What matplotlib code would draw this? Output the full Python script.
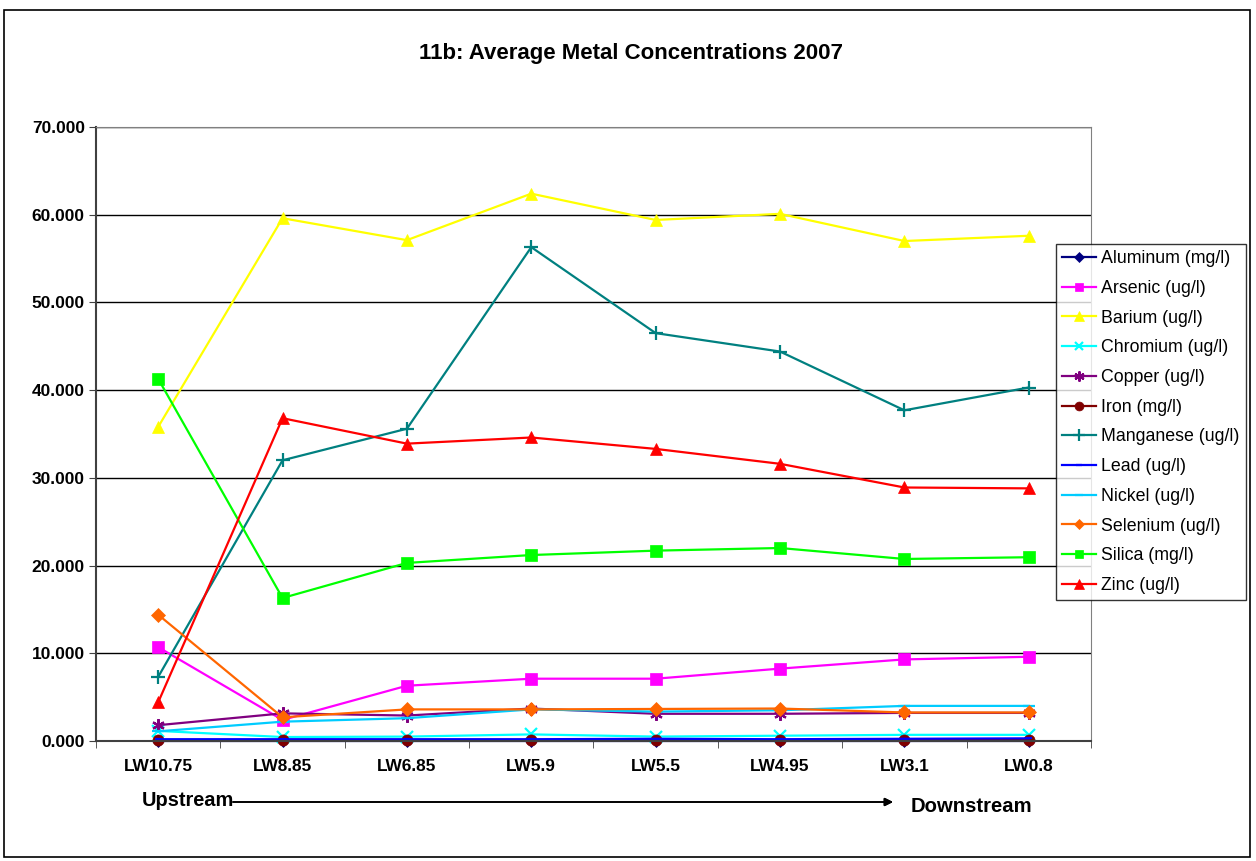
import matplotlib.pyplot as plt
from matplotlib.patches import Rectangle

plt.rcParams['font.family'] = ['Liberation Sans', 'DejaVu Sans']

### sites, ordered upstream -> downstream
sites = ['LW10.75', 'LW8.85', 'LW6.85', 'LW5.9', 'LW5.5', 'LW4.95', 'LW3.1', 'LW0.8']

### average concentrations per site
aluminum  = [0.05, 0.05, 0.05, 0.05, 0.05, 0.05, 0.05, 0.05]
arsenic   = [10.7, 2.4, 6.3, 7.1, 7.1, 8.25, 9.3, 9.6]
barium    = [35.8, 59.6, 57.1, 62.4, 59.4, 60.1, 57.0, 57.6]
chromium  = [1.15, 0.45, 0.5, 0.75, 0.5, 0.6, 0.7, 0.7]
copper    = [1.8, 3.15, 2.9, 3.7, 3.1, 3.1, 3.2, 3.2]
iron      = [0.1, 0.1, 0.1, 0.1, 0.1, 0.1, 0.1, 0.1]
manganese = [7.3, 32.0, 35.6, 56.3, 46.5, 44.4, 37.7, 40.3]
lead      = [0.2, 0.2, 0.2, 0.2, 0.25, 0.2, 0.25, 0.3]
nickel    = [1.1, 2.2, 2.6, 3.6, 3.35, 3.5, 4.0, 4.0]
selenium  = [14.4, 2.7, 3.6, 3.6, 3.65, 3.7, 3.25, 3.25]
silica    = [41.3, 16.3, 20.3, 21.2, 21.7, 22.0, 20.75, 20.95]
zinc      = [4.4, 36.8, 33.9, 34.6, 33.3, 31.6, 28.9, 28.8]

series = [
    ('Aluminum (mg/l)',  aluminum,  '#000080', 'D', 6),
    ('Arsenic (ug/l)',   arsenic,   '#FF00FF', 's', 8),
    ('Barium (ug/l)',    barium,    '#FFFF00', '^', 9),
    ('Chromium (ug/l)',  chromium,  '#00FFFF', 'x', 8),
    ('Copper (ug/l)',    copper,    '#800080', (6, 2, 0), 9),
    ('Iron (mg/l)',      iron,      '#800000', 'o', 8),
    ('Manganese (ug/l)', manganese, '#008080', '+', 10),
    ('Lead (ug/l)',      lead,      '#0000FF', '_', 5),
    ('Nickel (ug/l)',    nickel,    '#00CCFF', '_', 8),
    ('Selenium (ug/l)',  selenium,  '#FF6600', 'D', 7),
    ('Silica (mg/l)',    silica,    '#00FF00', 's', 8),
    ('Zinc (ug/l)',      zinc,      '#FF0000', '^', 9),
]

fig = plt.figure(figsize=(12.56, 8.61), dpi=100)
ax = fig.add_axes([0.0764, 0.1394, 0.7922, 0.7131])

x = list(range(len(sites)))
for name, vals, col, mk, ms in series:
    ax.plot(x, vals, color=col, marker=mk, markersize=ms, linewidth=1.6,
            markeredgewidth=1.6 if mk in ('x', '+', '_', (6, 2, 0)) else 0.5,
            markeredgecolor=col, label=name, clip_on=False)

ax.set_xlim(-0.5, len(sites) - 0.5)
ax.set_ylim(0, 70)
ax.set_yticks(range(0, 71, 10))
ax.set_yticklabels([f'{v:.3f}' for v in range(0, 71, 10)], fontweight='bold', fontsize=12.5)
ax.set_xticks(x)
ax.set_xticklabels(sites, fontweight='bold', fontsize=12.4)
ax.set_xticks([i + 0.5 for i in range(-1, len(sites))], minor=True)
ax.tick_params(axis='x', which='major', length=0, pad=13)
ax.tick_params(axis='x', which='minor', length=5, direction='out', color='#404040')
ax.tick_params(axis='y', length=5, direction='out', color='#404040', pad=3)
ax.yaxis.grid(True, color='black', linewidth=1)
ax.set_axisbelow(True)
for side in ('top', 'right'):
    ax.spines[side].set_color('#808080')
for side in ('left', 'bottom'):
    ax.spines[side].set_color('#404040')
    ax.spines[side].set_linewidth(1.5)

fig.text(631 / 1256, 1 - 53 / 861, '11b: Average Metal Concentrations 2007',
         fontweight='bold', fontsize=16, ha='center', va='center')

leg = fig.legend(loc='upper left', bbox_to_anchor=(1056 / 1256, 1 - 244 / 861),
                 fontsize=12.8, frameon=True, fancybox=False, edgecolor='black',
                 borderpad=0.35, labelspacing=0.715, handlelength=1.9, handletextpad=0.3,
                 borderaxespad=0, markerscale=0.8)
leg.get_frame().set_linewidth(1)

### direction of flow under the site labels
fig.text(142 / 1256, 1 - 801 / 861, 'Upstream', fontweight='bold', fontsize=14.4, va='center')
fig.text(911 / 1256, 1 - 807 / 861, 'Downstream', fontweight='bold', fontsize=14.6, va='center')
fig.add_artist(plt.annotate('', xy=(893 / 1256, 1 - 802 / 861), xytext=(233 / 1256, 1 - 802 / 861),
                            xycoords='figure fraction',
                            arrowprops=dict(arrowstyle='-|>', color='black', lw=1.2, mutation_scale=12,
                                            shrinkA=0, shrinkB=0)))

fig.add_artist(Rectangle((4 / 1256, 4 / 861), 1246 / 1256, 847 / 861, transform=fig.transFigure,
                         fill=False, edgecolor='black', linewidth=1.2))

fig.savefig('out.png', dpi=100)
